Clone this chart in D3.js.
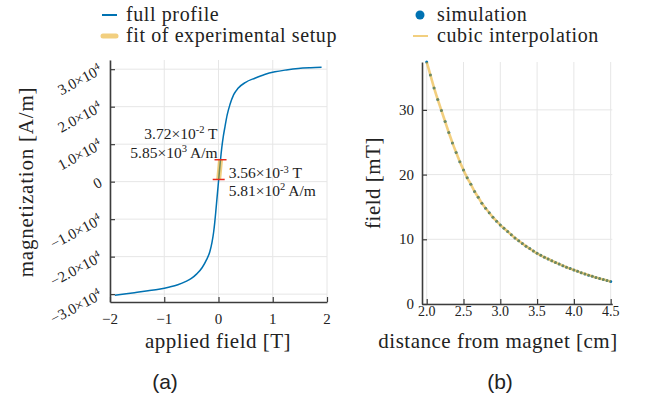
<!DOCTYPE html>
<html>
<head>
<meta charset="utf-8">
<script src="https://d3js.org/d3.v7.min.js"></script>
<style>
  body { margin: 0; background: #fff; }
</style>
</head>
<body>
<div id="vis"></div>
<script>
// ---- data ----
// (a) magnetization curve: applied field [T] vs magnetization [A/m]
var fieldT = [-1.91, -1.7, -1.5, -1.3, -1.1, -0.9, -0.75, -0.6, -0.5, -0.4, -0.3, -0.22, -0.16, -0.12,
  -0.09, -0.07, -0.05, -0.03, -0.015, 0, 0.015, 0.037, 0.06, 0.09, 0.12, 0.16, 0.21, 0.28, 0.36,
  0.5, 0.67, 0.85, 1.04, 1.25, 1.47, 1.7, 1.9];
var magAm = [-30300, -29900, -29500, -29100, -28700, -28100, -27500, -26600, -25800, -24600, -22900,
  -20800, -18700, -16200, -13500, -11000, -8000, -4800, -2400, 0, 2400, 5850, 9000, 12200, 14700,
  17800, 20500, 23200, 24900, 26500, 27600, 28600, 29300, 29800, 30200, 30400, 30500];
// fit of experimental setup (end points)
var fitField = [0.00356, 0.0372];
var fitMag = [581, 5850];
var fitText = [["3.56×10", "-3", " T"], ["3.72×10", "-2", " T"]];
var fitMagText = [["5.81×10", "2", " A/m"], ["5.85×10", "3", " A/m"]];

// (b) field vs distance from magnet
var distCm = [2.00, 2.05, 2.10, 2.15, 2.20, 2.25, 2.30, 2.35, 2.40, 2.45, 2.50, 2.55, 2.60, 2.65, 2.70,
  2.75, 2.80, 2.85, 2.90, 2.95, 3.00, 3.05, 3.10, 3.15, 3.20, 3.25, 3.30, 3.35, 3.40, 3.45, 3.50,
  3.55, 3.60, 3.65, 3.70, 3.75, 3.80, 3.85, 3.90, 3.95, 4.00, 4.05, 4.10, 4.15, 4.20, 4.25, 4.30,
  4.35, 4.40, 4.45, 4.50];
var fieldMt = [37.4, 35.4, 33.4, 31.6, 29.9, 28.2, 26.5, 24.9, 23.4, 22.0, 20.7, 19.5, 18.5, 17.4, 16.5,
  15.56, 14.8, 14.1, 13.4, 12.8, 12.2, 11.7, 11.2, 10.7, 10.2, 9.78, 9.35, 8.94, 8.56, 8.18, 7.83,
  7.52, 7.23, 6.95, 6.68, 6.42, 6.17, 5.93, 5.69, 5.47, 5.26, 5.05, 4.84, 4.65, 4.46, 4.28, 4.10,
  3.94, 3.78, 3.63, 3.48];

// ticks
var fieldTicks = [-2, -1, 0, 1, 2];
var magTicks = [-30000, -20000, -10000, 0, 10000, 20000, 30000];
var distTicks = [2.0, 2.5, 3.0, 3.5, 4.0, 4.5];
var mtTicks = [0, 10, 20, 30];

var blue = "#0072B2", orange = "#E69F00", red = "#e8291c";
var axisCol = "#3c3c3c", gridCol = "#e6e6e6";
var serif = "'Liberation Serif', 'DejaVu Serif', serif";
var sans = "'Liberation Sans', Arial, sans-serif";

var svg = d3.select("#vis").append("svg")
  .attr("width", 646).attr("height", 399)
  .attr("font-family", serif).attr("fill", "#222");

// write text with one superscript part
function supText(sel, parts, size) {
  sel.append("tspan").text(parts[0]);
  sel.append("tspan").attr("dy", -size * 0.38).attr("font-size", size * 0.68).text(parts[1]);
  sel.append("tspan").attr("dy", size * 0.38).text(parts[2]);
}
function minus(s) { return String(s).replace("-", "\u2212"); }

// ================= (a) =================
var xA = d3.scaleLinear().domain([-2, 2]).range([110, 327]);
var yA = d3.scaleLinear().domain([-32100, 32450]).range([302, 60]);
var a = svg.append("g");

// grid
a.selectAll(".gx").data(fieldTicks).enter().append("line")
  .attr("x1", d => xA(d)).attr("x2", d => xA(d))
  .attr("y1", yA.range()[1]).attr("y2", yA.range()[0])
  .attr("stroke", gridCol);
a.selectAll(".gy").data(magTicks).enter().append("line")
  .attr("x1", xA.range()[0]).attr("x2", xA.range()[1])
  .attr("y1", d => yA(d)).attr("y2", d => yA(d))
  .attr("stroke", gridCol);

// axes (inward ticks)
a.append("g").attr("transform", "translate(0," + yA.range()[0] + ")")
  .call(d3.axisTop(xA).tickValues(fieldTicks).tickSizeInner(5).tickSizeOuter(0).tickFormat(""))
  .call(g => g.select(".domain").attr("stroke", axisCol).attr("stroke-width", 1.6))
  .call(g => g.selectAll(".tick line").attr("stroke", axisCol).attr("stroke-width", 1.2));
a.append("g").attr("transform", "translate(" + xA.range()[0] + ",0)")
  .call(d3.axisRight(yA).tickValues(magTicks).tickSizeInner(5).tickSizeOuter(0).tickFormat(""))
  .call(g => g.select(".domain").attr("stroke", axisCol).attr("stroke-width", 1.6))
  .call(g => g.selectAll(".tick line").attr("stroke", axisCol).attr("stroke-width", 1.2));

// x tick labels
a.selectAll(".xl").data(fieldTicks).enter().append("text")
  .attr("x", d => xA(d)).attr("y", 324)
  .attr("text-anchor", "middle").attr("font-size", 15)
  .text(d => minus(d));

// y tick labels (rotated)
magTicks.forEach(function (v) {
  var t = a.append("text")
    .attr("transform", "translate(103," + (yA(v) + 4) + ") rotate(-28)")
    .attr("text-anchor", "end").attr("font-size", 15);
  if (v === 0) { t.text("0"); return; }
  supText(t, [minus((v / 1e4).toFixed(1)) + "×10", "4", ""], 15);
});

// axis titles
a.append("text").attr("x", 218).attr("y", 348).attr("text-anchor", "middle")
  .attr("font-size", 21).attr("letter-spacing", 0.5).text("applied field [T]");
a.append("text").attr("transform", "translate(33,182) rotate(-90)").attr("text-anchor", "middle")
  .attr("font-size", 21).attr("letter-spacing", 0.8).text("magnetization [A/m]");

// full profile curve
var lineA = d3.line().x(d => xA(d[0])).y(d => yA(d[1])).curve(d3.curveMonotoneX);
a.append("path").datum(d3.zip(fieldT, magAm))
  .attr("d", lineA).attr("fill", "none").attr("stroke", blue).attr("stroke-width", 1.5);

// fit of experimental setup
var fitPts = d3.zip(fitField, fitMag);
a.append("path").datum(fitPts).attr("d", d3.line().x(d => xA(d[0])).y(d => yA(d[1])))
  .attr("stroke", orange).attr("stroke-opacity", 0.5).attr("stroke-width", 5).attr("fill", "none");
a.selectAll(".fm").data(fitPts).enter().append("line")
  .attr("x1", d => xA(d[0]) - 6).attr("x2", d => xA(d[0]) + 6)
  .attr("y1", d => yA(d[1])).attr("y2", d => yA(d[1]))
  .attr("stroke", red).attr("stroke-width", 1.5);

// annotations
var annSize = 15.5;
var lowT = a.append("text").attr("x", xA(fitField[0]) + 10).attr("y", yA(fitMag[0]) - 1).attr("font-size", annSize);
supText(lowT, fitText[0], annSize);
var lowM = a.append("text").attr("x", xA(fitField[0]) + 10).attr("y", yA(fitMag[0]) + 16.5).attr("font-size", annSize);
supText(lowM, fitMagText[0], annSize);
var hiT = a.append("text").attr("x", xA(fitField[1]) - 3).attr("y", yA(fitMag[1]) - 21)
  .attr("text-anchor", "end").attr("font-size", annSize);
supText(hiT, fitText[1], annSize);
var hiM = a.append("text").attr("x", xA(fitField[1]) - 3).attr("y", yA(fitMag[1]) - 2)
  .attr("text-anchor", "end").attr("font-size", annSize);
supText(hiM, fitMagText[1], annSize);

// legend (a)
a.append("line").attr("x1", 102).attr("x2", 117).attr("y1", 15).attr("y2", 15)
  .attr("stroke", blue).attr("stroke-width", 2);
a.append("text").attr("x", 126).attr("y", 21).attr("font-size", 20).attr("letter-spacing", 0.6).text("full profile");
a.append("line").attr("x1", 103).attr("x2", 116).attr("y1", 36).attr("y2", 36)
  .attr("stroke", orange).attr("stroke-opacity", 0.5).attr("stroke-width", 5).attr("stroke-linecap", "round");
a.append("text").attr("x", 126).attr("y", 42).attr("font-size", 20).attr("letter-spacing", 0.6).text("fit of experimental setup");

a.append("text").attr("x", 165).attr("y", 389).attr("text-anchor", "middle")
  .attr("font-family", sans).attr("font-size", 21).text("(a)");

// ================= (b) =================
var xB = d3.scaleLinear().domain([1.936, 4.522]).range([422, 612.3]);
var yB = d3.scaleLinear().domain([0, 37.4]).range([304, 62]);
var b = svg.append("g");

b.selectAll(".gx").data(distTicks).enter().append("line")
  .attr("x1", d => xB(d)).attr("x2", d => xB(d))
  .attr("y1", yB.range()[1]).attr("y2", yB.range()[0]).attr("stroke", gridCol);
b.selectAll(".gy").data(mtTicks).enter().append("line")
  .attr("x1", xB.range()[0]).attr("x2", xB.range()[1])
  .attr("y1", d => yB(d)).attr("y2", d => yB(d)).attr("stroke", gridCol);

b.append("g").attr("transform", "translate(0," + yB.range()[0] + ")")
  .call(d3.axisTop(xB).tickValues(distTicks).tickSizeInner(5).tickSizeOuter(0).tickFormat(""))
  .call(g => g.select(".domain").attr("stroke", axisCol).attr("stroke-width", 1.6))
  .call(g => g.selectAll(".tick line").attr("stroke", axisCol).attr("stroke-width", 1.2));
b.append("g").attr("transform", "translate(" + xB.range()[0] + ",0)")
  .call(d3.axisRight(yB).tickValues(mtTicks).tickSizeInner(5).tickSizeOuter(0).tickFormat(""))
  .call(g => g.select(".domain").attr("stroke", axisCol).attr("stroke-width", 1.6))
  .call(g => g.selectAll(".tick line").attr("stroke", axisCol).attr("stroke-width", 1.2));

b.selectAll(".xl").data(distTicks).enter().append("text")
  .attr("x", d => xB(d)).attr("y", 316).attr("text-anchor", "middle").attr("font-size", 14)
  .text(d => d.toFixed(1));
b.selectAll(".yl").data(mtTicks).enter().append("text")
  .attr("x", 414).attr("y", d => yB(d) + 5).attr("text-anchor", "end").attr("font-size", 15)
  .text(d => d);

b.append("text").attr("x", 498).attr("y", 348).attr("text-anchor", "middle")
  .attr("font-size", 21).attr("letter-spacing", 0.5).text("distance from magnet [cm]");
b.append("text").attr("transform", "translate(380,183) rotate(-90)").attr("text-anchor", "middle")
  .attr("font-size", 21).attr("letter-spacing", 0.5).text("field [mT]");

// simulation points + cubic interpolation
var simPts = d3.zip(distCm, fieldMt);
b.selectAll(".sim").data(simPts).enter().append("circle")
  .attr("cx", d => xB(d[0])).attr("cy", d => yB(d[1])).attr("r", 1.5).attr("fill", blue);
b.append("path").datum(simPts)
  .attr("d", d3.line().x(d => xB(d[0])).y(d => yB(d[1])).curve(d3.curveNatural))
  .attr("fill", "none").attr("stroke", orange).attr("stroke-opacity", 0.5).attr("stroke-width", 2.6);

// legend (b)
b.append("circle").attr("cx", 420).attr("cy", 15).attr("r", 4.5).attr("fill", blue);
b.append("text").attr("x", 437).attr("y", 21).attr("font-size", 20).attr("letter-spacing", 0.6).text("simulation");
b.append("line").attr("x1", 413).attr("x2", 428).attr("y1", 36).attr("y2", 36)
  .attr("stroke", orange).attr("stroke-opacity", 0.5).attr("stroke-width", 2);
b.append("text").attr("x", 437).attr("y", 42).attr("font-size", 20).attr("letter-spacing", 0.6).text("cubic interpolation");

b.append("text").attr("x", 500).attr("y", 389).attr("text-anchor", "middle")
  .attr("font-family", sans).attr("font-size", 21).text("(b)");
</script>
</body>
</html>
